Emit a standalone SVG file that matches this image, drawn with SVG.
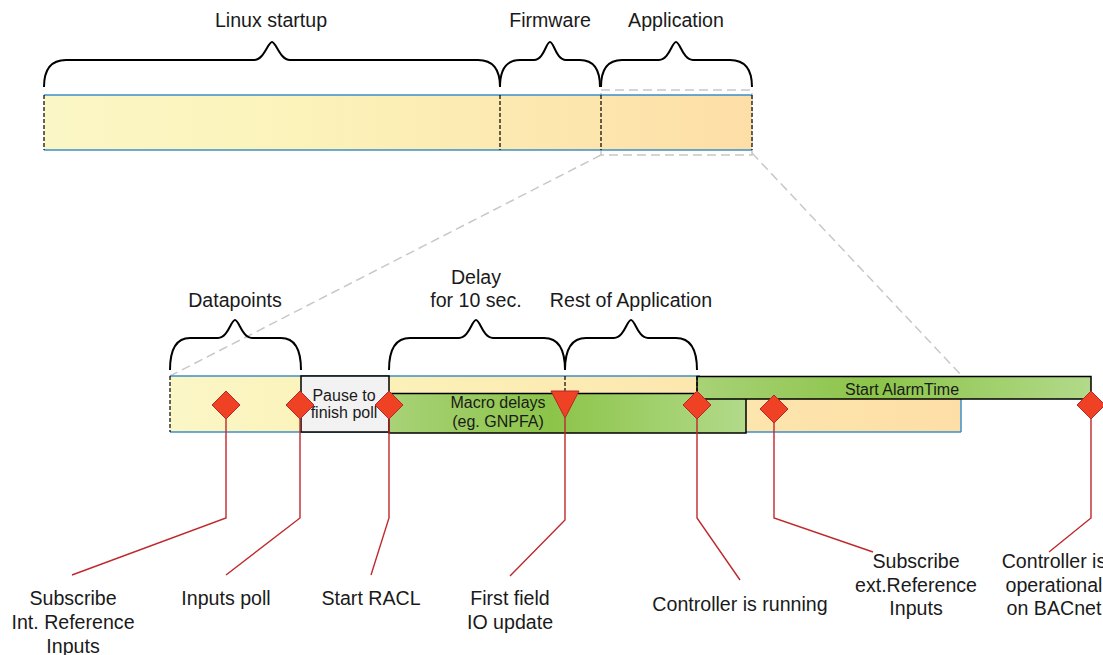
<svg xmlns="http://www.w3.org/2000/svg" width="1103" height="655" viewBox="0 0 1103 655">
<defs>
<linearGradient id="gTop" x1="44" y1="0" x2="752" y2="0" gradientUnits="userSpaceOnUse">
<stop offset="0" stop-color="#fbf6c6"/><stop offset="0.35" stop-color="#fbf3ba"/><stop offset="1" stop-color="#fddea6"/>
</linearGradient>
<linearGradient id="gLow" x1="170" y1="0" x2="961" y2="0" gradientUnits="userSpaceOnUse">
<stop offset="0" stop-color="#fbf6c6"/><stop offset="0.2" stop-color="#fbf3ba"/><stop offset="1" stop-color="#fddea6"/>
</linearGradient>
<linearGradient id="gGreen" x1="0" y1="0" x2="1" y2="0">
<stop offset="0" stop-color="#a8d277"/><stop offset="0.45" stop-color="#8cc449"/><stop offset="1" stop-color="#b2da8a"/>
</linearGradient>
<style>
text{font-family:"Liberation Sans",Arial,sans-serif;fill:#1a1a1a;text-anchor:middle}
.lbl{font-size:19.6px}
.sm{font-size:16px}
.brace{fill:none;stroke:#000;stroke-width:2}
.blue{stroke:#3d8ec9;stroke-width:1.5;fill:none}
.dash{stroke:#000;stroke-width:1.2;stroke-dasharray:4,2;fill:none}
.zoom{stroke:#c8c8c8;stroke-width:1.5;stroke-dasharray:9,5;fill:none}
.box{stroke:#000;stroke-width:1.5}
.dia{fill:#ef4123;stroke:#b8262b;stroke-width:1}
.conn{stroke:#c0282d;stroke-width:1.4;fill:none}
</style>
</defs>

<g id="zoom-guides">
<rect class="zoom" x="601" y="90" width="151" height="65"/>
<line class="zoom" x1="601" y1="155" x2="170" y2="376"/>
<line class="zoom" x1="752" y1="153" x2="962" y2="376"/>
</g>

<g id="top-bar">
<rect x="44" y="95" width="708" height="55" fill="url(#gTop)"/>
<line class="blue" x1="44" y1="95" x2="752" y2="95"/>
<line class="blue" x1="44" y1="150" x2="752" y2="150"/>
<line class="dash" x1="44" y1="95" x2="44" y2="150"/>
<line class="dash" x1="500" y1="95" x2="500" y2="150"/>
<line class="dash" x1="601" y1="95" x2="601" y2="150"/>
<line class="dash" x1="752" y1="95" x2="752" y2="150"/>
</g>

<g id="brace-linux">
<path class="brace" d="M44,87 C44,70 50,60 66,60 L254,60 C264,60 268,42 272,42 C276,42 280,60 290,60 L478,60 C494,60 500,70 500,87"/>
<text class="lbl" x="271" y="27">Linux startup</text>
</g>
<g id="brace-firmware">
<path class="brace" d="M500,87 C500,70 506,60 520,60 L534,60 C544,60 546,42 550,42 C554,42 556,60 566,60 L580,60 C594,60 600,70 600,87"/>
<text class="lbl" x="550" y="27">Firmware</text>
</g>
<g id="brace-application">
<path class="brace" d="M601,87 C601,70 607,60 622,60 L659,60 C669,60 672,42 676,42 C680,42 683,60 693,60 L730,60 C746,60 752,70 752,87"/>
<text class="lbl" x="676" y="27">Application</text>
</g>

<g id="lower-bar">
<rect x="170" y="376" width="791" height="56" fill="url(#gLow)"/>
<line class="blue" x1="170" y1="376" x2="700" y2="376"/>
<line class="blue" x1="170" y1="432" x2="961" y2="432"/>
<line class="blue" x1="961" y1="399" x2="961" y2="432"/>
<line class="dash" x1="170" y1="376" x2="170" y2="432"/>
<line class="dash" x1="565" y1="376" x2="565" y2="394"/>
</g>

<g id="pause-box">
<rect class="box" x="301" y="376" width="88" height="56" fill="#f2f2f2"/>
<text class="sm" x="344" y="401">Pause to</text>
<text class="sm" x="344" y="418">finish poll</text>
</g>

<g id="macro-delays">
<rect class="box" x="389" y="393.5" width="357" height="39.5" fill="url(#gGreen)"/>
<text class="sm" x="498" y="408">Macro delays</text>
<text class="sm" x="498" y="427">(eg. GNPFA)</text>
</g>

<g id="start-alarmtime">
<rect class="box" x="697" y="376.5" width="394" height="22.5" fill="url(#gGreen)"/>
<line class="dash" x1="697" y1="376" x2="697" y2="393"/>
<text class="sm" x="902" y="395">Start AlarmTime</text>
</g>

<g id="brace-datapoints">
<path class="brace" d="M170,370 C170,350 176,338 190,338 L218,338 C228,338 231,320 235,320 C239,320 242,338 252,338 L281,338 C295,338 301,350 301,370"/>
<text class="lbl" x="235" y="307">Datapoints</text>
</g>
<g id="brace-delay">
<path class="brace" d="M389,370 C389,350 395,338 410,338 L459,338 C469,338 472,320 476,320 C480,320 483,338 493,338 L544,338 C559,338 565,350 565,370"/>
<text class="lbl" x="476" y="284">Delay</text>
<text class="lbl" x="476" y="307">for 10 sec.</text>
</g>
<g id="brace-rest">
<path class="brace" d="M565,370 C565,350 571,338 586,338 L614,338 C624,338 627,320 631,320 C635,320 638,338 648,338 L676,338 C691,338 697,350 697,370"/>
<text class="lbl" x="631" y="307">Rest of Application</text>
</g>

<g id="connectors">
<polyline class="conn" points="226,419 226,518 72,575"/>
<polyline class="conn" points="300,419 300,518 226,575"/>
<polyline class="conn" points="389,419 389,518 371,575"/>
<polyline class="conn" points="565,418 565,520 510,576"/>
<polyline class="conn" points="697,419 697,518 740,580"/>
<polyline class="conn" points="774,423 774,518 873,552"/>
<polyline class="conn" points="1091,419 1091,518 1049,552"/>
</g>

<g id="m-subscribe-int">
<polygon class="dia" points="226,391 240,405 226,419 212,405"/>
<text class="lbl" x="73" y="605">Subscribe</text>
<text class="lbl" x="73" y="629">Int. Reference</text>
<text class="lbl" x="73" y="653">Inputs</text>
</g>
<g id="m-inputs-poll">
<polygon class="dia" points="300,391 314,405 300,419 286,405"/>
<text class="lbl" x="226" y="605">Inputs poll</text>
</g>
<g id="m-start-racl">
<polygon class="dia" points="389,391 403,405 389,419 375,405"/>
<text class="lbl" x="371" y="605">Start RACL</text>
</g>
<g id="m-first-field">
<polygon class="dia" points="551,391 579,391 565,418"/>
<text class="lbl" x="510" y="605">First field</text>
<text class="lbl" x="510" y="629">IO update</text>
</g>
<g id="m-controller-running">
<polygon class="dia" points="697,391 711,405 697,419 683,405"/>
<text class="lbl" x="740" y="611">Controller is running</text>
</g>
<g id="m-subscribe-ext">
<polygon class="dia" points="774,395 788,409 774,423 760,409"/>
<text class="lbl" x="916" y="568">Subscribe</text>
<text class="lbl" x="916" y="592">ext.Reference</text>
<text class="lbl" x="916" y="615">Inputs</text>
</g>
<g id="m-controller-operational">
<polygon class="dia" points="1091,391 1105,405 1091,419 1077,405"/>
<text class="lbl" x="1054" y="568">Controller is</text>
<text class="lbl" x="1054" y="592">operational</text>
<text class="lbl" x="1054" y="615">on BACnet</text>
</g>
</svg>
